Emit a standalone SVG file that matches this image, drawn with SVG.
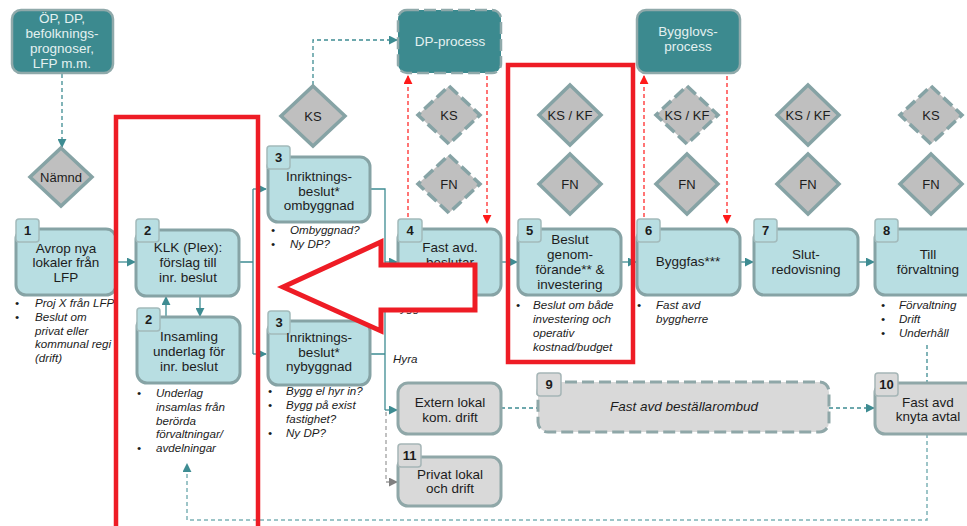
<svg xmlns="http://www.w3.org/2000/svg" width="967" height="526" viewBox="0 0 967 526">
<defs>
<style>
text{font-family:"Liberation Sans",Arial,sans-serif;fill:#1C1C1C}
.t{font-size:13.5px;text-anchor:middle}
.w{fill:#E4F1F1}
.n{font-size:13px;font-weight:bold;text-anchor:middle}
.b{font-size:11.6px;font-style:italic}
.d{font-size:13px;text-anchor:middle}
.box{fill:#B8DEE2;stroke:#86A3A5;stroke-width:3}
.gbox{fill:#D9D9D9;stroke:#8FA7A8;stroke-width:3}
.badge{fill:#B8DEE2;stroke:#A2BABB;stroke-width:1.5}
.gbadge{fill:#D9D9D9;stroke:#A5B5B6;stroke-width:1.5}
.top{fill:#3C8A8F;stroke:#8FA9AA;stroke-width:2.5}
.dia{fill:#BFBFBF;stroke:#86A3A5;stroke-width:3.5}
.dash{stroke-dasharray:12 5}
.c{fill:none;stroke:#3E8C92;stroke-width:1.3}
.cd{fill:none;stroke:#3E8C92;stroke-width:1.3;stroke-dasharray:4 3}
.cl{fill:none;stroke:#7DB3B7;stroke-width:1.5;stroke-dasharray:4 3}
.cg{fill:none;stroke:#A0A0A0;stroke-width:1.3;stroke-dasharray:4 3}
.cr{fill:none;stroke:#FF1A1A;stroke-width:1.2;stroke-dasharray:4 3}
.red{fill:none;stroke:#EE1C25;stroke-width:4.5}
</style>
<marker id="a" viewBox="0 0 10 10" refX="9" refY="5" markerWidth="9" markerHeight="9" markerUnits="userSpaceOnUse" orient="auto"><path d="M0,0 L10,5 L0,10 z" fill="#3E8C92"/></marker>
<marker id="ag" viewBox="0 0 10 10" refX="9" refY="5" markerWidth="9" markerHeight="9" markerUnits="userSpaceOnUse" orient="auto"><path d="M0,0 L10,5 L0,10 z" fill="#808080"/></marker>
<marker id="ar" viewBox="0 0 10 10" refX="9" refY="5" markerWidth="9" markerHeight="9" markerUnits="userSpaceOnUse" orient="auto"><path d="M0,0 L10,5 L0,10 z" fill="#FF1A1A"/></marker>
</defs>
<rect width="967" height="526" fill="#FFFFFF"/>

<g id="connectors">
<path class="cd" d="M62,74 V147" marker-end="url(#a)"/>
<path class="cd" d="M313,85 V40 H397" marker-end="url(#a)"/>
<path class="c" d="M116,262 H135" marker-end="url(#a)"/>
<path class="c" d="M239,262 H253 M253,189 V354"/>
<path class="c" d="M253,189 H266" marker-end="url(#a)"/>
<path class="c" d="M253,354 H266" marker-end="url(#a)"/>
<path class="c" d="M166,317 V297" marker-end="url(#a)"/>
<path class="c" d="M200,296 V316" marker-end="url(#a)"/>
<path class="c" d="M370,189 H385 V410 M370,354 H385"/>
<path class="c" d="M385,262 H397" marker-end="url(#a)"/>
<path class="c" d="M385,410 H397" marker-end="url(#a)"/>
<path class="cg" d="M386,412 V482 H397" marker-end="url(#ag)"/>
<path class="c" d="M501,262 H517" marker-end="url(#a)"/>
<path class="c" d="M621,262 H636" marker-end="url(#a)"/>
<path class="c" d="M740,262 H753" marker-end="url(#a)"/>
<path class="c" d="M858,262 H874" marker-end="url(#a)"/>
<path class="cd" d="M501,408 H537"/>
<path class="cd" d="M829,408 H874" marker-end="url(#a)"/>
<path class="cd" d="M927,345 V382"/>
<path class="cl" d="M927,434 V520 H187 V464" marker-end="url(#a)"/>
<path class="cr" d="M408,217 V76" marker-end="url(#ar)"/>
<path class="cr" d="M487,76 V223" marker-end="url(#ar)"/>
<path class="cr" d="M644,217 V76" marker-end="url(#ar)"/>
<path class="cr" d="M727,76 V223" marker-end="url(#ar)"/>
</g>

<g id="n-op"><rect class="top" x="12" y="10" width="101" height="63" rx="9"/>
<text class="t w" x="62" y="23">ÖP, DP,</text><text class="t w" x="62" y="38">befolknings-</text><text class="t w" x="62" y="53">prognoser,</text><text class="t w" x="62" y="68">LFP m.m.</text></g>
<g id="n-dp"><rect class="top dash" x="398" y="10" width="103" height="63" rx="9"/><text class="t w" x="450" y="46">DP-process</text></g>
<g id="n-bl"><rect class="top" x="637" y="10" width="103" height="63" rx="9"/><text class="t w" x="688" y="36">Bygglovs-</text><text class="t w" x="688" y="51">process</text></g>

<g id="d-namnd"><polygon class="dia" points="61,148 92,177 61,206 30,177"/><text class="d" x="61" y="182">Nämnd</text></g>
<g id="d-ks1"><polygon class="dia" points="313,86 345,116 313,146 281,116"/><text class="d" x="313" y="121">KS</text></g>
<g id="d-ks2"><polygon class="dia dash" points="449,86 480,115 449,144 418,115"/><text class="d" x="449" y="120">KS</text></g>
<g id="d-fn2"><polygon class="dia dash" points="449,155 480,184 449,213 418,184"/><text class="d" x="449" y="189">FN</text></g>
<g id="d-kskf5"><polygon class="dia" points="570,85 601,115 570,145 539,115"/><text class="d" x="570" y="120">KS / KF</text></g>
<g id="d-fn5"><polygon class="dia" points="570,154 601,184 570,214 539,184"/><text class="d" x="570" y="189">FN</text></g>
<g id="d-kskf6"><polygon class="dia dash" points="687,86 718,115 687,144 656,115"/><text class="d" x="687" y="120">KS / KF</text></g>
<g id="d-fn6"><polygon class="dia" points="687,154 718,184 687,214 656,184"/><text class="d" x="687" y="189">FN</text></g>
<g id="d-kskf7"><polygon class="dia" points="808,85 839,115 808,145 777,115"/><text class="d" x="808" y="120">KS / KF</text></g>
<g id="d-fn7"><polygon class="dia" points="808,154 839,184 808,214 777,184"/><text class="d" x="808" y="189">FN</text></g>
<g id="d-ks8"><polygon class="dia dash" points="931,86 962,115 931,144 900,115"/><text class="d" x="931" y="120">KS</text></g>
<g id="d-fn8"><polygon class="dia" points="931,154 962,184 931,214 900,184"/><text class="d" x="931" y="189">FN</text></g>

<g id="n1"><rect class="box" x="16" y="229" width="100" height="66" rx="10"/><rect class="badge" x="16" y="219" width="23" height="23" rx="3"/><text class="n" x="27.5" y="235">1</text>
<text class="t" x="66" y="253">Avrop  nya</text><text class="t" x="66" y="267">lokaler från</text><text class="t" x="66" y="282">LFP</text>
<text class="b" x="15" y="307">•</text><text class="b" x="35" y="307">Proj X från LFP</text>
<text class="b" x="15" y="321">•</text><text class="b" x="35" y="321">Beslut om</text><text class="b" x="35" y="335">privat eller</text><text class="b" x="35" y="348">kommunal regi</text><text class="b" x="35" y="362">(drift)</text></g>

<g id="n2a"><rect class="box" x="136" y="230" width="103" height="66" rx="10"/><rect class="badge" x="136" y="219" width="23" height="23" rx="3"/><text class="n" x="147.5" y="235">2</text>
<text class="t" x="188" y="252">KLK (Plex):</text><text class="t" x="188" y="267">förslag till</text><text class="t" x="188" y="282">inr. beslut</text></g>

<g id="n2b"><rect class="box" x="137" y="317" width="103" height="66" rx="10"/><rect class="badge" x="137" y="308" width="23" height="23" rx="3"/><text class="n" x="148.5" y="324">2</text>
<text class="t" x="189" y="341">Insamling</text><text class="t" x="189" y="356">underlag för</text><text class="t" x="189" y="371">inr. beslut</text>
<text class="b" x="137" y="397">•</text><text class="b" x="156" y="397">Underlag</text><text class="b" x="156" y="411">insamlas från</text><text class="b" x="156" y="425">berörda</text><text class="b" x="156" y="438">förvaltningar/</text>
<text class="b" x="137" y="452">•</text><text class="b" x="156" y="452">avdelningar</text></g>

<g id="n3a"><rect class="box" x="268" y="157" width="102" height="65" rx="10"/><rect class="badge" x="267" y="146" width="23" height="23" rx="3"/><text class="n" x="278.5" y="162">3</text>
<text class="t" x="319" y="181">Inriktnings-</text><text class="t" x="319" y="196">beslut*</text><text class="t" x="319" y="210">ombyggnad</text>
<text class="b" x="271" y="234">•</text><text class="b" x="290" y="234">Ombyggnad?</text>
<text class="b" x="271" y="248">•</text><text class="b" x="290" y="248">Ny DP?</text></g>

<g id="n3b"><rect class="box" x="268" y="321" width="102" height="64" rx="10"/><rect class="badge" x="268" y="311" width="22" height="23" rx="3"/><text class="n" x="279" y="327">3</text>
<text class="t" x="319" y="342">Inriktnings-</text><text class="t" x="319" y="357">beslut*</text><text class="t" x="319" y="371">nybyggnad</text>
<text class="b" x="268" y="395">•</text><text class="b" x="286" y="395">Bygg el hyr in?</text>
<text class="b" x="268" y="409">•</text><text class="b" x="286" y="409">Bygg på exist</text><text class="b" x="286" y="423">fastighet?</text>
<text class="b" x="268" y="437">•</text><text class="b" x="286" y="437">Ny DP?</text></g>

<g id="lbl"><text class="b" x="393" y="312">Bygg</text><text class="b" x="393" y="363">Hyra</text></g>

<g id="n4"><rect class="box" x="398" y="229" width="103" height="66" rx="10"/><rect class="badge" x="398" y="219" width="24" height="23" rx="3"/><text class="n" x="410" y="235">4</text>
<text class="t" x="450" y="252">Fast avd.</text><text class="t" x="450" y="267">beslutar</text></g>

<g id="n5"><rect class="box" x="518" y="229" width="103" height="66" rx="10"/><rect class="badge" x="518" y="219" width="23" height="23" rx="3"/><text class="n" x="529.5" y="235">5</text>
<text class="t" x="570" y="244">Beslut</text><text class="t" x="570" y="259">genom-</text><text class="t" x="570" y="274">förande** &amp;</text><text class="t" x="570" y="289">investering</text>
<text class="b" x="516" y="309">•</text><text class="b" x="533" y="309">Beslut om både</text><text class="b" x="533" y="323">investering och</text><text class="b" x="533" y="337">operativ</text><text class="b" x="533" y="351">kostnad/budget</text></g>

<g id="n6"><rect class="box" x="637" y="229" width="103" height="66" rx="10"/><rect class="badge" x="637" y="219" width="23" height="23" rx="3"/><text class="n" x="648.5" y="235">6</text>
<text class="t" x="688" y="266">Byggfas***</text>
<text class="b" x="637" y="309">•</text><text class="b" x="656" y="309">Fast avd</text><text class="b" x="656" y="323">byggherre</text></g>

<g id="n7"><rect class="box" x="754" y="229" width="104" height="66" rx="10"/><rect class="badge" x="754" y="219" width="23" height="23" rx="3"/><text class="n" x="765.5" y="235">7</text>
<text class="t" x="806" y="259">Slut-</text><text class="t" x="806" y="274">redovisning</text></g>

<g id="n8"><rect class="box" x="875" y="229" width="104" height="66" rx="10"/><rect class="badge" x="875" y="219" width="23" height="23" rx="3"/><text class="n" x="886.5" y="235">8</text>
<text class="t" x="928" y="259">Till</text><text class="t" x="928" y="274">förvaltning</text>
<text class="b" x="881" y="309">•</text><text class="b" x="899" y="309">Förvaltning</text>
<text class="b" x="881" y="323">•</text><text class="b" x="899" y="323">Drift</text>
<text class="b" x="881" y="337">•</text><text class="b" x="899" y="337">Underhåll</text></g>

<g id="n-extern"><rect class="gbox" x="398" y="383" width="103" height="51" rx="10"/>
<text class="t" x="450" y="407">Extern  lokal</text><text class="t" x="450" y="422">kom. drift</text></g>

<g id="n9"><rect class="gbox dash" x="538" y="382" width="291" height="50" rx="10"/><rect class="gbadge" x="537" y="373" width="24" height="23" rx="3"/><text class="n" x="549" y="389">9</text>
<text class="t" x="684" y="411" font-style="italic">Fast avd beställarombud</text></g>

<g id="n10"><rect class="gbox" x="875" y="383" width="104" height="51" rx="10"/><rect class="gbadge" x="875" y="373" width="23" height="23" rx="3"/><text class="n" x="886.5" y="389">10</text>
<text class="t" x="928" y="407">Fast avd</text><text class="t" x="928" y="421">knyta  avtal</text></g>

<g id="n11"><rect class="gbox" x="398" y="457" width="103" height="49" rx="10"/><rect class="gbadge" x="398" y="444" width="23" height="23" rx="3"/><text class="n" x="409.5" y="460">11</text>
<text class="t" x="450" y="479">Privat lokal</text><text class="t" x="450" y="493">och drift</text></g>

<g id="highlights">
<rect class="red" x="116" y="117" width="142" height="420"/>
<rect class="red" x="508" y="65" width="125" height="297"/>
<polygon points="283,287 381,242 381,265 475,265 475,310 381,310 381,331" fill="#FFFFFF" stroke="#EE1C25" stroke-width="5" stroke-linejoin="miter"/>
</g>
</svg>
